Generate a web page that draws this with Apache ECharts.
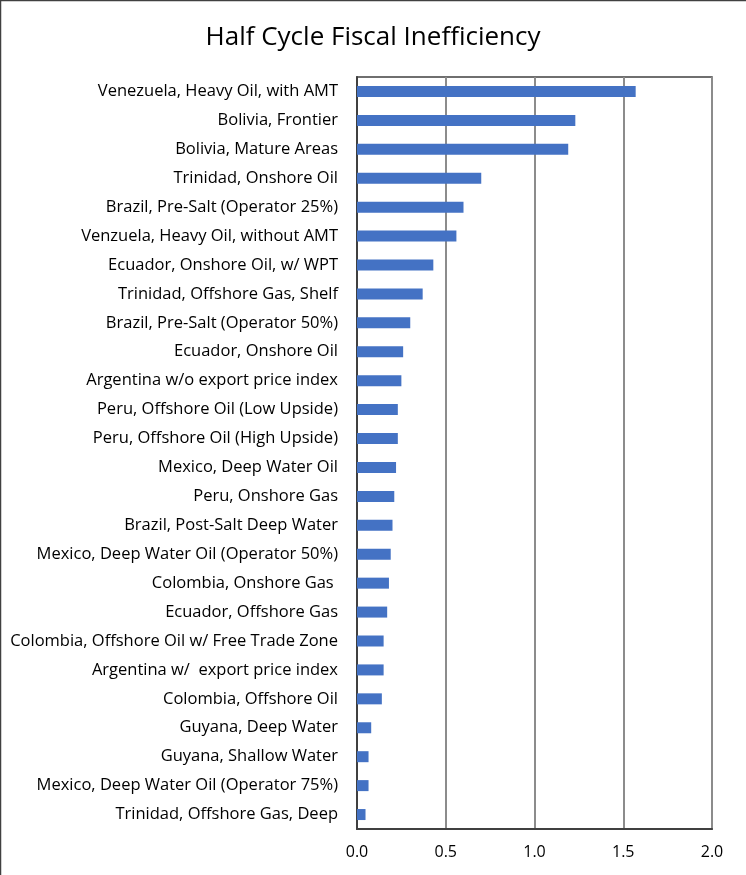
<!DOCTYPE html>
<html>
<head>
<meta charset="utf-8">
<script src="https://cdn.jsdelivr.net/npm/echarts@6/dist/echarts.min.js"></script>
<style>
  html, body { margin: 0; padding: 0; background: #ffffff; }
  #chart { width: 746px; height: 875px; }
</style>
</head>
<body>
<div id="chart"></div>
<script>
// Fiscal regimes, listed top to bottom
const categories = [
  'Venezuela, Heavy Oil, with AMT',
  'Bolivia, Frontier',
  'Bolivia, Mature Areas',
  'Trinidad, Onshore Oil',
  'Brazil, Pre-Salt (Operator 25%)',
  'Venzuela, Heavy Oil, without AMT',
  'Ecuador, Onshore Oil, w/ WPT',
  'Trinidad, Offshore Gas, Shelf',
  'Brazil, Pre-Salt (Operator 50%)',
  'Ecuador, Onshore Oil',
  'Argentina w/o export price index',
  'Peru, Offshore Oil (Low Upside)',
  'Peru, Offshore Oil (High Upside)',
  'Mexico, Deep Water Oil',
  'Peru, Onshore Gas',
  'Brazil, Post-Salt Deep Water',
  'Mexico, Deep Water Oil (Operator 50%)',
  'Colombia, Onshore Gas ',
  'Ecuador, Offshore Gas',
  'Colombia, Offshore Oil w/ Free Trade Zone',
  'Argentina w/  export price index',
  'Colombia, Offshore Oil',
  'Guyana, Deep Water',
  'Guyana, Shallow Water',
  'Mexico, Deep Water Oil (Operator 75%)',
  'Trinidad, Offshore Gas, Deep'
];

// Half cycle fiscal inefficiency per regime (same order)
const inefficiency = [
  1.57, 1.23, 1.19, 0.70, 0.60, 0.56, 0.43, 0.37, 0.30, 0.26, 0.25, 0.23, 0.23,
  0.22, 0.21, 0.20, 0.19, 0.18, 0.17, 0.15, 0.15, 0.14, 0.08, 0.065, 0.065, 0.048
];

// Value axis ticks
const xTicks = [0, 0.5, 1.0, 1.5, 2.0];

const FONT = '"Open Sans", "Noto Sans", sans-serif';

const chart = echarts.init(document.getElementById('chart'), null, { renderer: 'canvas' });

chart.setOption({
  animation: false,
  backgroundColor: '#ffffff',
  title: {
    text: 'Half Cycle Fiscal Inefficiency',
    left: 'center',
    top: 20,
    textStyle: { fontFamily: FONT, fontSize: 26, fontWeight: 'normal', color: '#000000' }
  },
  graphic: [
    {
      type: 'rect',
      shape: { x: 0.5, y: 0.5, width: 900, height: 1000 },
      style: { fill: 'none', stroke: '#404040', lineWidth: 1.5 },
      silent: true,
      z: 100
    }
  ],
  grid: {
    left: 357,
    right: 34,
    top: 77,
    bottom: 46,
    containLabel: false,
    show: true,
    borderColor: '#404040',
    borderWidth: 1.5
  },
  xAxis: {
    type: 'value',
    min: xTicks[0],
    max: xTicks[xTicks.length - 1],
    interval: 0.5,
    axisLine: { show: true, lineStyle: { color: '#404040', width: 2 } },
    axisTick: { show: false },
    axisLabel: {
      margin: 15,
      fontFamily: FONT,
      fontSize: 16,
      color: '#000000',
      formatter: v => v.toFixed(1)
    },
    splitLine: { show: true, lineStyle: { color: '#8c8c8c', width: 2 } }
  },
  yAxis: {
    type: 'category',
    data: categories,
    inverse: true,
    axisLine: { show: true, lineStyle: { color: '#404040', width: 2 } },
    axisTick: { show: false },
    axisLabel: {
      margin: 19,
      fontFamily: FONT,
      fontSize: 16.5,
      color: '#000000',
      interval: 0
    },
    splitLine: { show: false }
  },
  series: [
    {
      type: 'bar',
      data: inefficiency,
      barWidth: 11,
      itemStyle: { color: '#4472c4' }
    }
  ]
});
</script>
</body>
</html>
